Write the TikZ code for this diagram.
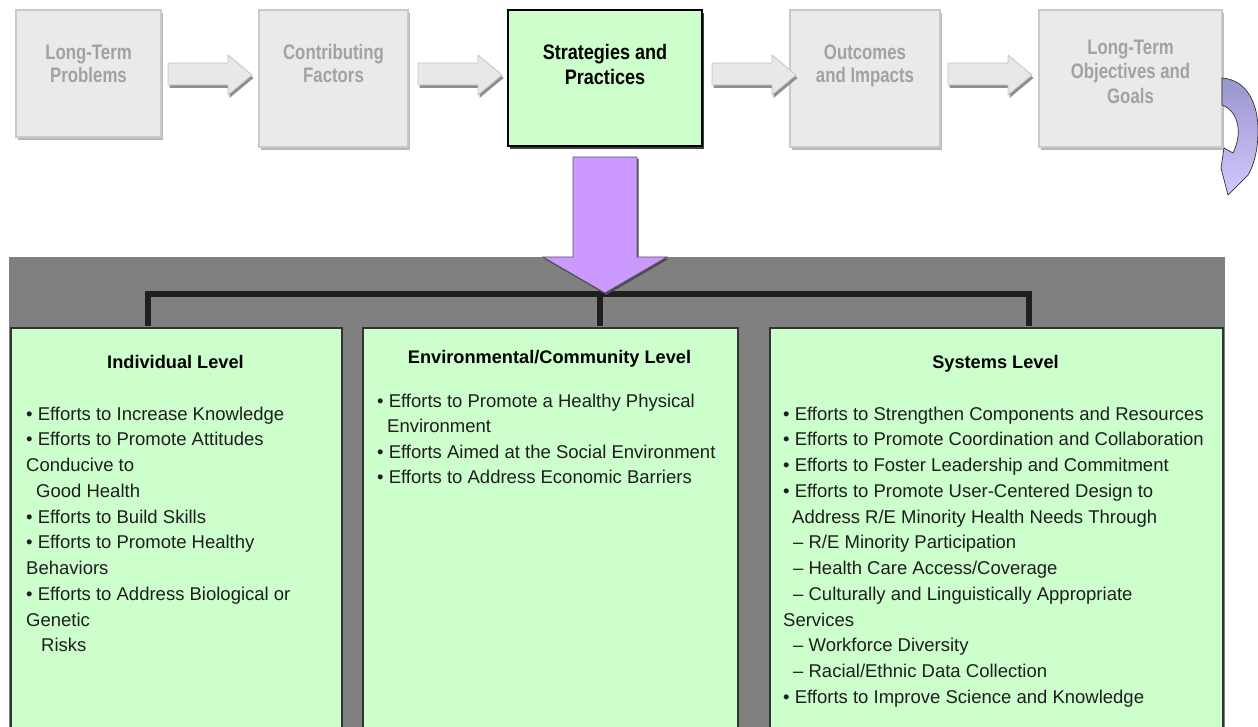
\documentclass[tikz,border=0pt]{standalone}
\usepackage{fontspec}
\setmainfont{Liberation Sans}
\newfontfamily\topfont[FakeStretch=0.80]{Liberation Sans}
\newfontfamily\stratfont[FakeStretch=0.86]{Liberation Sans}
\usetikzlibrary{shadows}
\definecolor{boxgrey}{HTML}{EAEAEA}
\definecolor{boxline}{HTML}{CACACA}
\definecolor{boxshadow}{HTML}{B8B8B8}
\definecolor{greytext}{HTML}{A2A2A2}
\definecolor{palegreen}{HTML}{CCFFCC}
\definecolor{panelgrey}{HTML}{808080}
\definecolor{lilac}{HTML}{CC99FF}
\definecolor{curvetop}{HTML}{9896CC}
\definecolor{curvebottom}{HTML}{D4C8FF}
\definecolor{arrowfill}{HTML}{E8E8E8}
\definecolor{arrowline}{HTML}{C4C4C4}
\definecolor{arrowshade}{HTML}{8E8E8E}
\definecolor{bodytext}{HTML}{1E1E1E}
\tikzset{
  topbox/.style={rectangle, fill=boxgrey, draw=boxline, line width=1.5pt, inner sep=0,
    drop shadow={shadow xshift=1.5pt, shadow yshift=-3pt, fill=boxshadow, opacity=1}},
  stratbox/.style={rectangle, fill=palegreen, draw=black, line width=2.5pt, inner sep=0,
    drop shadow={shadow xshift=2pt, shadow yshift=-3pt, fill=black!75, opacity=1}},
  toptext/.style={font=\topfont\bfseries\fontsize{21}{21}\selectfont, text=greytext, anchor=base, inner sep=0},
  strattext/.style={font=\stratfont\bfseries\fontsize{21}{21}\selectfont, text=black, anchor=base, inner sep=0},
  levelbox/.style={rectangle, fill=palegreen, draw=black!80, line width=2pt, inner sep=0, anchor=north west},
  leveltitle/.style={font=\bfseries\fontsize{18.2}{18.2}\selectfont, text=black, anchor=base, inner sep=0},
  body/.style={font=\fontsize{18.5}{18.5}\selectfont, text=bodytext, anchor=base west, inner sep=0},
  bracket/.style={line width=5.5pt, draw=black!88, line join=miter},
  blockarrow/.style={fill=arrowfill, draw=arrowline, line width=0.8pt, line join=round},
  blockshadow/.style={fill=arrowshade},
}
\newcommand\bodyline[4]{\node[body] (#1) at (#2,#3) {#4};}
\begin{document}
\begin{tikzpicture}[x=1pt,y=-1pt]
\useasboundingbox (0,0) rectangle (1258,727);
\fill[white] (0,0) rectangle (1258,727);

% ---- top row boxes
\node[topbox, minimum width=145pt, minimum height=127pt] (b1) at (88.5,73.5) {};
\node[topbox, minimum width=149pt, minimum height=137pt] (b2) at (333.5,78.5) {};
\node[stratbox, minimum width=194pt, minimum height=136pt] (b3) at (605,78) {};
\node[topbox, minimum width=150pt, minimum height=137pt] (b4) at (865,78.5) {};
\node[topbox, minimum width=183pt, minimum height=137pt] (b5) at (1130.5,78.5) {};

\node[toptext] (t1a) at (88.5,60) {Long-Term};
\node[toptext] (t1b) at (88.5,83) {Problems};
\node[toptext] (t2a) at (333.5,60) {Contributing};
\node[toptext] (t2b) at (333.5,83) {Factors};
\node[strattext] (t3a) at (605,60) {Strategies and};
\node[strattext] (t3b) at (605,85) {Practices};
\node[toptext] (t4a) at (865,60) {Outcomes};
\node[toptext] (t4b) at (865,83) {and Impacts};
\node[toptext] (t5a) at (1130.5,55) {Long-Term};
\node[toptext] (t5b) at (1130.5,79) {Objectives and};
\node[toptext] (t5c) at (1130.5,104) {Goals};

% ---- block arrows between top boxes
\foreach \x in {168,418,712,948}{
  \fill[blockshadow, shift={(1.5,3)}] (\x,63) -- (\x+60,63) -- (\x+60,55) -- (\x+84,75) -- (\x+60,95) -- (\x+60,85) -- (\x,85) -- cycle;
  \draw[blockarrow] (\x,63) -- (\x+60,63) -- (\x+60,55) -- (\x+84,75) -- (\x+60,95) -- (\x+60,85) -- (\x,85) -- cycle;
}

% ---- curved arrow at right
\draw[draw=black!80, line width=0.7pt, line join=round, top color=curvetop, bottom color=curvebottom]
  (1222,78) .. controls (1248,80) and (1258,105) .. (1258,130)
  .. controls (1258,150) and (1254,165) .. (1248,175)
  -- (1228,195) -- (1221,168) -- (1224,148) -- (1233,153)
  .. controls (1242,135) and (1240,112) .. (1222,105) -- cycle;

% ---- grey panel
\fill[panelgrey] (9,257) rectangle (1225,760);

% ---- level boxes
\node[levelbox, minimum width=331pt, minimum height=433pt] (ca) at (10,327) {};
\node[levelbox, minimum width=375pt, minimum height=433pt] (cb) at (362,327) {};
\node[levelbox, minimum width=453pt, minimum height=433pt] (cc) at (769,327) {};

% ---- bracket connectors
\coordinate (jl) at (148,294);
\coordinate (jm) at (600,294);
\coordinate (jr) at (1029,294);
\draw[bracket] ([yshift=1pt]jl |- ca.north) -- (jl) -- (jr) -- ([yshift=1pt]jr |- cc.north);
\draw[bracket] (jm) -- ([yshift=1pt]jm |- cb.north);

% ---- down arrow
\fill[black!70, shift={(1.5,2)}] (573,157) -- (637,157) -- (637,257) -- (667,257) -- (605,293) -- (543,257) -- (573,257) -- cycle;
\draw[fill=lilac, draw=black!65, line width=0.8pt] (573,157) -- (637,157) -- (637,257) -- (667,257) -- (605,293) -- (543,257) -- (573,257) -- cycle;

% ---- titles
\node[leveltitle] (ta) at (175.5,368) {Individual Level};
\node[leveltitle] (tb) at (549.5,363) {Environmental/Community Level};
\node[leveltitle] (tc) at (995.5,368) {Systems Level};

% ---- individual level
\bodyline{a1}{26}{420}{• Efforts to Increase Knowledge}
\bodyline{a2}{26}{445.8}{• Efforts to Promote Attitudes}
\bodyline{a3}{26}{471.5}{Conducive to}
\bodyline{a4}{36}{497.3}{Good Health}
\bodyline{a5}{26}{523}{• Efforts to Build Skills}
\bodyline{a6}{26}{548.8}{• Efforts to Promote Healthy}
\bodyline{a7}{26}{574.5}{Behaviors}
\bodyline{a8}{26}{600.3}{• Efforts to Address Biological or}
\bodyline{a9}{26}{626}{Genetic}
\bodyline{a10}{41}{651.8}{Risks}

% ---- environmental level
\bodyline{e1}{377}{407}{• Efforts to Promote a Healthy Physical}
\bodyline{e2}{387}{432.5}{Environment}
\bodyline{e3}{377}{458}{• Efforts Aimed at the Social Environment}
\bodyline{e4}{377}{483.5}{• Efforts to Address Economic Barriers}

% ---- systems level
\bodyline{s1}{783}{420}{• Efforts to Strengthen Components and Resources}
\bodyline{s2}{783}{445.8}{• Efforts to Promote Coordination and Collaboration}
\bodyline{s3}{783}{471.5}{• Efforts to Foster Leadership and Commitment}
\bodyline{s4}{783}{497.3}{• Efforts to Promote User-Centered Design to}
\bodyline{s5}{792}{523}{Address R/E Minority Health Needs Through}
\bodyline{s6}{793}{548.8}{– R/E Minority Participation}
\bodyline{s7}{793}{574.5}{– Health Care Access/Coverage}
\bodyline{s8}{793}{600.3}{– Culturally and Linguistically Appropriate}
\bodyline{s9}{783}{626}{Services}
\bodyline{s10}{793}{651.8}{– Workforce Diversity}
\bodyline{s11}{793}{677.5}{– Racial/Ethnic Data Collection}
\bodyline{s12}{783}{703.3}{• Efforts to Improve Science and Knowledge}
\end{tikzpicture}
\end{document}
